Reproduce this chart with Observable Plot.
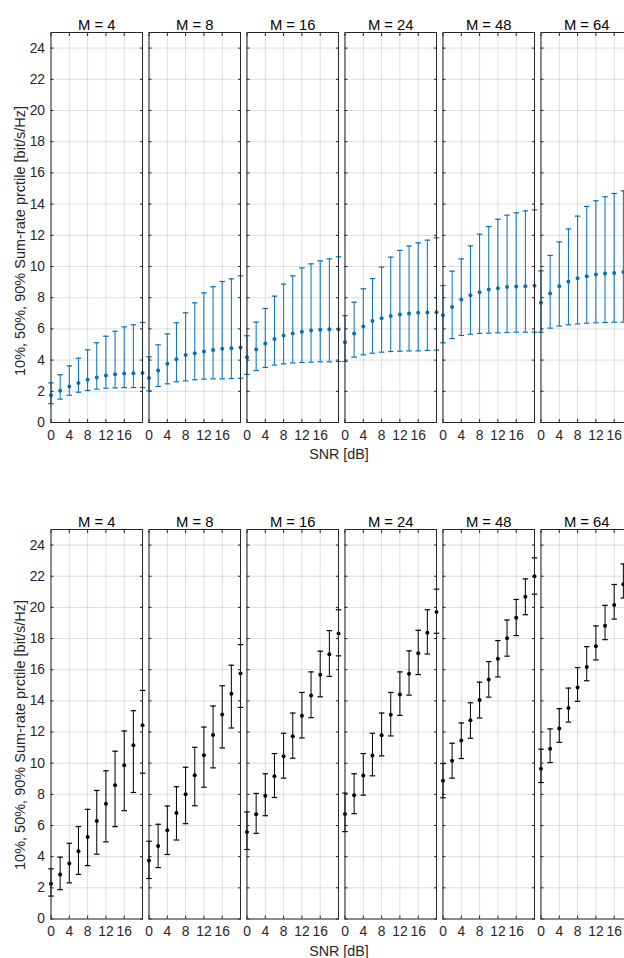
<!DOCTYPE html>
<html>
<head>
<meta charset="utf-8">
<script src="https://cdn.jsdelivr.net/npm/d3@7"></script>
<script src="https://cdn.jsdelivr.net/npm/@observablehq/plot@0.6"></script>
<style>
  html, body { margin: 0; padding: 0; overflow: hidden; background: white; }
  #wrap { width: 640px; }
  #wrap svg { max-width: none !important; display: block; }
</style>
</head>
<body>
<div id="wrap"></div>
<script>
// ---- data ----
const snr = [0, 2, 4, 6, 8, 10, 12, 14, 16, 18, 20];
const antennas = [4, 8, 16, 24, 48, 64];
const xTicks = [0, 4, 8, 12, 16];
const yTicks = [0, 2, 4, 6, 8, 10, 12, 14, 16, 18, 20, 22, 24];

// top row (blue)
const topP50 = [
  [1.75, 2.03, 2.31, 2.54, 2.74, 2.88, 3.01, 3.10, 3.14, 3.16, 3.18],
  [2.86, 3.33, 3.76, 4.06, 4.32, 4.44, 4.55, 4.64, 4.72, 4.76, 4.81],
  [4.19, 4.68, 5.06, 5.36, 5.58, 5.71, 5.81, 5.90, 5.94, 5.98, 5.98],
  [5.15, 5.71, 6.15, 6.50, 6.69, 6.82, 6.92, 6.99, 7.03, 7.05, 7.07],
  [6.88, 7.41, 7.88, 8.16, 8.35, 8.53, 8.61, 8.68, 8.72, 8.74, 8.76],
  [7.67, 8.27, 8.74, 9.04, 9.25, 9.38, 9.49, 9.55, 9.59, 9.64, 9.66]
];
const topP10 = [
  [1.20, 1.50, 1.75, 1.94, 2.05, 2.14, 2.20, 2.22, 2.24, 2.24, 2.24],
  [2.03, 2.31, 2.48, 2.61, 2.67, 2.74, 2.78, 2.80, 2.80, 2.82, 2.84],
  [3.08, 3.33, 3.53, 3.68, 3.76, 3.82, 3.85, 3.87, 3.89, 3.89, 3.91],
  [3.91, 4.19, 4.34, 4.44, 4.51, 4.55, 4.57, 4.59, 4.59, 4.62, 4.64],
  [5.11, 5.38, 5.58, 5.66, 5.71, 5.73, 5.75, 5.77, 5.79, 5.79, 5.79],
  [5.79, 6.05, 6.18, 6.26, 6.32, 6.37, 6.39, 6.41, 6.43, 6.43, 6.44]
];
const topP90 = [
  [2.54, 3.06, 3.63, 4.12, 4.66, 5.11, 5.53, 5.85, 6.13, 6.26, 6.41],
  [4.21, 4.98, 5.68, 6.39, 7.03, 7.67, 8.31, 8.70, 9.04, 9.21, 9.40],
  [5.56, 6.43, 7.31, 8.10, 8.87, 9.40, 9.91, 10.17, 10.36, 10.49, 10.62],
  [6.85, 7.71, 8.57, 9.23, 9.96, 10.60, 11.03, 11.32, 11.52, 11.69, 11.84],
  [8.78, 9.70, 10.49, 11.32, 12.07, 12.56, 13.03, 13.29, 13.44, 13.57, 13.63],
  [9.72, 10.71, 11.58, 12.41, 13.23, 13.85, 14.21, 14.47, 14.68, 14.85, 15.00]
];

// bottom row (black)
const botP50 = [
  [2.26, 2.86, 3.56, 4.35, 5.27, 6.29, 7.40, 8.59, 9.87, 11.15, 12.43],
  [3.75, 4.69, 5.69, 6.80, 8.00, 9.23, 10.51, 11.81, 13.13, 14.46, 15.76],
  [5.59, 6.72, 7.91, 9.17, 10.45, 11.73, 13.05, 14.35, 15.67, 16.99, 18.32],
  [6.74, 7.95, 9.21, 10.49, 11.79, 13.11, 14.41, 15.74, 17.06, 18.38, 19.70],
  [8.87, 10.15, 11.45, 12.75, 14.05, 15.37, 16.70, 18.02, 19.34, 20.68, 22.00],
  [9.64, 10.92, 12.22, 13.54, 14.86, 16.18, 17.51, 18.83, 20.15, 21.49, 22.80]
];
const botP10 = [
  [1.47, 1.88, 2.32, 2.86, 3.43, 4.16, 4.95, 5.93, 6.95, 8.12, 9.36],
  [2.60, 3.30, 4.14, 5.07, 6.12, 7.27, 8.46, 9.70, 10.98, 12.26, 13.58],
  [4.46, 5.50, 6.63, 7.80, 9.04, 10.32, 11.62, 12.92, 14.26, 15.57, 16.89],
  [5.61, 6.76, 7.95, 9.19, 10.47, 11.75, 13.07, 14.37, 15.69, 17.01, 18.34],
  [7.78, 9.04, 10.30, 11.60, 12.90, 14.24, 15.54, 16.87, 18.19, 19.53, 20.85],
  [8.76, 10.04, 11.34, 12.64, 13.97, 15.29, 16.63, 17.93, 19.25, 20.60, 21.90]
];
const botP90 = [
  [3.22, 3.97, 4.86, 5.93, 7.04, 8.25, 9.51, 10.77, 12.07, 13.37, 14.67],
  [4.99, 6.08, 7.25, 8.49, 9.74, 11.02, 12.32, 13.67, 14.97, 16.29, 17.61],
  [6.87, 8.06, 9.32, 10.62, 11.92, 13.22, 14.54, 15.86, 17.19, 18.51, 19.85],
  [8.08, 9.32, 10.62, 11.92, 13.22, 14.54, 15.86, 17.21, 18.53, 19.85, 21.17],
  [9.98, 11.28, 12.58, 13.88, 15.20, 16.52, 17.87, 19.19, 20.51, 21.83, 23.18],
  [10.90, 12.20, 13.50, 14.82, 16.14, 17.48, 18.81, 20.13, 21.47, 22.79, 24.10]
];

const yLabel = "10%, 50%, 90% Sum-rate prctile [bit/s/Hz]";
const xLabel = "SNR [dB]";

// ---- build ----
function toRows(p10, p50, p90) {
  const rows = [];
  antennas.forEach((m, i) => snr.forEach((s, j) => {
    rows.push({M: m, snr: s, lo: p10[i][j], med: p50[i][j], hi: p90[i][j]});
  }));
  return rows;
}

const capSymbol = {
  draw(ctx, size) {
    const w = Math.sqrt(size / Math.PI);
    ctx.moveTo(-w, 0);
    ctx.lineTo(w, 0);
  }
};

const FONT = "'Liberation Sans', Arial, Helvetica, sans-serif";
const TICK_FS = 13.8;

function makePanel({rows, color, height, marginTop, marginBottom, yLabelY, xLabelY}) {
  const gridStyle = {stroke: "#262626", strokeOpacity: 0.15, strokeWidth: 1};
  const svg = Plot.plot({
    width: 640,
    height,
    marginLeft: 50.5,
    marginRight: 8,
    marginTop,
    marginBottom,
    style: {fontFamily: FONT, fontSize: TICK_FS + "px", color: "#262626", background: "white", maxWidth: "none"},
    fx: {domain: antennas, paddingInner: 0.066, paddingOuter: 0, round: false},
    x: {domain: [0, 20]},
    y: {domain: [0, 25]},
    marks: [
      Plot.gridX(xTicks, {...gridStyle, facetAnchor: null}),
      Plot.gridY(yTicks, {...gridStyle, facetAnchor: null}),
      // inward tick marks on all four sides of each panel
      Plot.axisY(yTicks, {anchor: "left", tickSize: -3, tickFormat: () => "", label: null, facetAnchor: null, stroke: "#262626"}),
      Plot.axisY(yTicks, {anchor: "right", tickSize: -3, tickFormat: () => "", label: null, facetAnchor: null, stroke: "#262626"}),
      Plot.axisX(xTicks, {anchor: "top", tickSize: -3, tickFormat: () => "", label: null, facetAnchor: null, stroke: "#262626"}),
      Plot.axisX(xTicks, {anchor: "bottom", tickSize: -3, tickFormat: () => "", label: null, facetAnchor: null, stroke: "#262626"}),
      // tick labels
      Plot.axisY(yTicks, {anchor: "left", tickSize: 0, tickPadding: 6, label: null, fill: "#262626", fontSize: TICK_FS}),
      Plot.axisX(xTicks, {anchor: "bottom", tickSize: 0, tickPadding: 7.5, label: null, fill: "#262626", fontSize: TICK_FS}),
      Plot.axisFx({anchor: "top", tickSize: 0, tickPadding: 3, label: null, fontSize: 14.8, fill: "#000",
                   tickFormat: d => `M = ${d}`}),
      // error bars
      Plot.ruleX(rows, {fx: "M", x: "snr", y1: "lo", y2: "hi", stroke: color, strokeWidth: 1}),
      Plot.dot(rows, {fx: "M", x: "snr", y: "lo", symbol: capSymbol, r: 2.75, stroke: color, fill: "none", strokeWidth: 1.2}),
      Plot.dot(rows, {fx: "M", x: "snr", y: "hi", symbol: capSymbol, r: 2.75, stroke: color, fill: "none", strokeWidth: 1.2}),
      Plot.dot(rows, {fx: "M", x: "snr", y: "med", r: 2, fill: color, stroke: "none"}),
      Plot.frame({stroke: "#262626", strokeWidth: 1})
    ]
  });
  const s = d3.select(svg);
  s.append("text")
    .attr("transform", `translate(20,${yLabelY}) rotate(-90)`)
    .attr("text-anchor", "middle")
    .attr("dominant-baseline", "central")
    .attr("font-family", FONT)
    .attr("font-size", 14.5)
    .attr("fill", "#262626")
    .text(yLabel);
  s.append("text")
    .attr("x", 339)
    .attr("y", xLabelY)
    .attr("text-anchor", "middle")
    .attr("font-family", FONT)
    .attr("font-size", 14.3)
    .attr("fill", "#262626")
    .text(xLabel);
  return svg;
}

const wrap = document.getElementById("wrap");
wrap.appendChild(makePanel({
  rows: toRows(topP10, topP50, topP90), color: "#0072BD",
  height: 470, marginTop: 32, marginBottom: 48, yLabelY: 241, xLabelY: 458.5
}));
wrap.appendChild(makePanel({
  rows: toRows(botP10, botP50, botP90), color: "#000000",
  height: 488, marginTop: 59, marginBottom: 39.5, yLabelY: 265, xLabelY: 486
}));
</script>
</body>
</html>
